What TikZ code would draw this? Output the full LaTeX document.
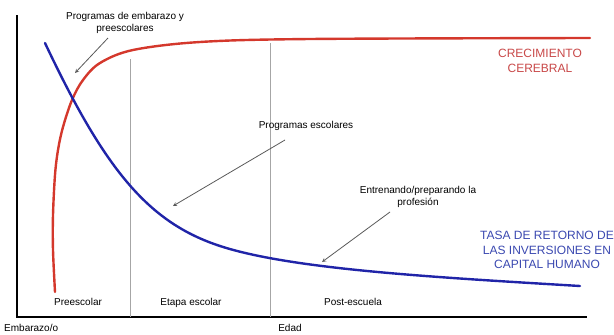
\documentclass[tikz,border=0pt]{standalone}
\usepackage{fontspec}
\setmainfont{Liberation Sans}
\usepackage{xcolor}
\usepackage{tikz}

\definecolor{brainred}{RGB}{212,56,44}
\definecolor{brainlbl}{RGB}{200,72,72}
\definecolor{returnblue}{RGB}{32,36,168}
\definecolor{returnlbl}{RGB}{58,72,176}

\begin{document}
\begin{tikzpicture}[x=1pt, y=-1pt,
        lbl/.style={font=\fontsize{10}{12.5}\selectfont, align=center, inner sep=0pt},
        biglbl/.style={font=\fontsize{12}{14.5}\selectfont, align=center, inner sep=0pt},
        pointer/.style={->, >=stealth, draw=black!65, line width=0.8pt},
        curve/.style={line width=2.4pt, line cap=round}]
        \useasboundingbox (0, 0) rectangle (614, 335);

        \draw[line width=1.8pt] (17, 15) -- (17, 317) -- (587, 317);
        \draw[black!35, line width=0.6pt] (130, 59) -- (130, 317);
        \draw[black!35, line width=0.6pt] (270, 43) -- (270, 317);
        \node[lbl] (preesc) at (78, 302) {Preescolar};
        \node[lbl] (etapa) at (191, 303) {Etapa escolar};
        \node[lbl] (post) at (353, 302) {Post-escuela};
        \node[lbl, anchor=west] (origen) at (4, 328) {Embarazo/o};
        \node[lbl] (edad) at (290, 328) {Edad};

        % curves
        \draw[curve, brainred] plot[smooth, tension=0.55] coordinates {(55, 292) (53, 250) (53, 215) (55, 175) (58, 150) (63, 127) (72, 100) (83, 80) (100, 63) (133, 50) (200, 42) (310, 39) (590, 38)};
        \draw[curve, returnblue] (45, 43) .. controls (104, 168) and (147, 221) .. (217, 245)
            .. controls (287, 269) and (430, 277) .. (580, 286);
        \node[biglbl, text=brainlbl] (cerebral) at (540, 61) {CRECIMIENTO\\CEREBRAL};
        \node[biglbl, text=returnlbl] (tasa) at (547, 250) {TASA DE RETORNO DE\\LAS INVERSIONES EN\\CAPITAL HUMANO};

        % pointers
        \node[lbl] (embarazo) at (125, 23) {Programas de embarazo y\\preescolares};
        \coordinate (embarazo tail) at (108, 38);
        \coordinate (embarazo tip) at (75, 73);
        \draw[pointer] (embarazo tail) -- (embarazo tip);

        \node[lbl] (escolares) at (306, 126) {Programas escolares};
        \coordinate (escolares tail) at (285, 140);
        \coordinate (escolares tip) at (173, 206);
        \draw[pointer] (escolares tail) -- (escolares tip);

        \node[lbl] (profesion) at (418, 197) {Entrenando/preparando la\\profesión};
        \coordinate (profesion tail) at (390, 212);
        \coordinate (profesion tip) at (322, 262);
        \draw[pointer] (profesion tail) -- (profesion tip);
    \end{tikzpicture}
\end{document}
